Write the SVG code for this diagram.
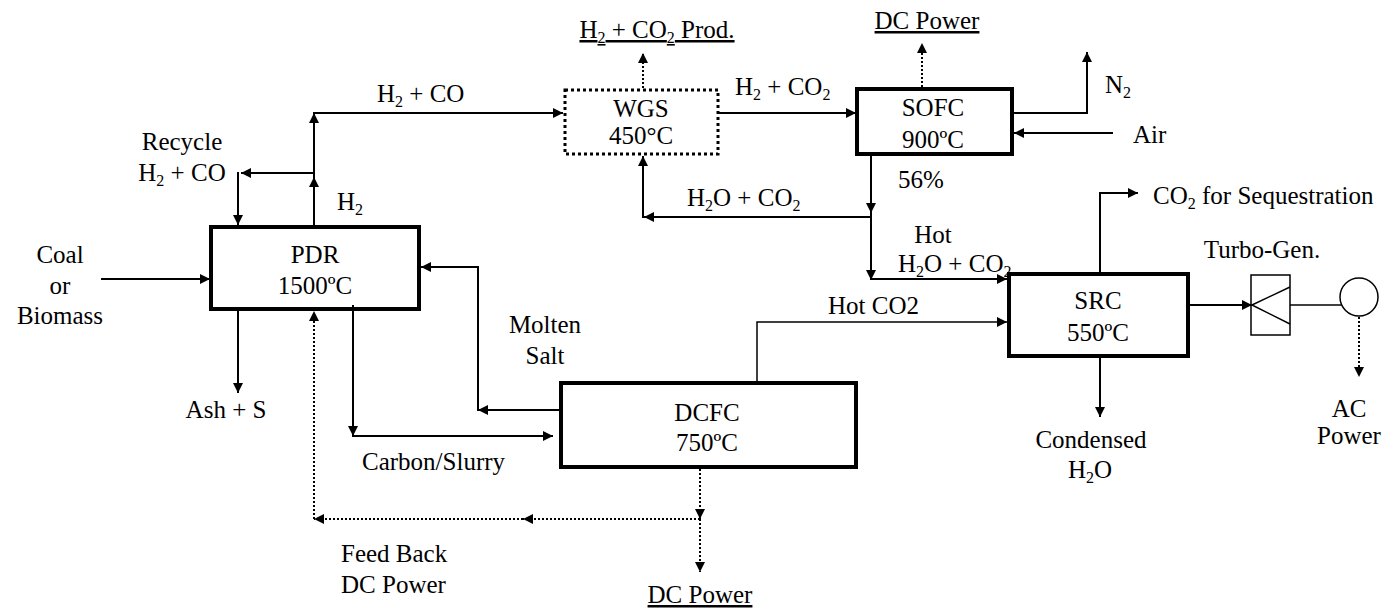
<svg xmlns="http://www.w3.org/2000/svg" width="1393" height="609" viewBox="0 0 1393 609">
<defs>
<marker id="arr" viewBox="0 0 10 10" refX="10" refY="5" markerWidth="12" markerHeight="10" markerUnits="userSpaceOnUse" orient="auto"><path d="M0,0 L10,5 L0,10 z" fill="#000"/></marker>
</defs>
<style>
text { font-family: "Liberation Serif", "Times New Roman", serif; font-size: 25px; fill: #000; }
.s { font-size: 16px; }
.m { text-anchor: middle; }
.u { text-decoration: underline; }
.c { stroke: #000; stroke-width: 2; fill: none; }
.t { stroke: #000; stroke-width: 1.5; fill: none; }
.d { stroke: #000; stroke-width: 2; fill: none; stroke-dasharray: 2 2; }
.box { fill: #fff; stroke: #000; stroke-width: 4; }
</style>
<rect width="1393" height="609" fill="#fff"/>

<g id="PDR">
<rect class="box" x="211" y="227" width="208" height="82"/>
<text class="m" x="315" y="263">PDR</text>
<text class="m" x="315" y="294">1500ºC</text>
</g>
<g id="WGS">
<rect x="565" y="90" width="153" height="64" fill="#fff" stroke="#000" stroke-width="3" stroke-dasharray="3 3"/>
<text class="m" x="641" y="117">WGS</text>
<text class="m" x="641" y="144">450°C</text>
</g>
<g id="SOFC">
<rect class="box" x="857" y="89" width="155" height="65"/>
<text class="m" x="933" y="116">SOFC</text>
<text class="m" x="933" y="148">900ºC</text>
</g>
<g id="SRC">
<rect class="box" x="1009" y="274" width="179" height="82"/>
<text class="m" x="1098" y="309">SRC</text>
<text class="m" x="1098" y="341">550ºC</text>
</g>
<g id="DCFC">
<rect class="box" x="561" y="383" width="295" height="84"/>
<text class="m" x="707" y="421">DCFC</text>
<text class="m" x="707" y="451">750ºC</text>
</g>
<g id="TurboGen">
<rect x="1251" y="275" width="39" height="60" fill="#fff" stroke="#000" stroke-width="1.5"/>
<path class="t" d="M1252,305 L1290,287 M1252,305 L1290,324"/>
<text class="m" x="1262" y="258">Turbo-Gen.</text>
</g>
<g id="Generator">
<circle cx="1359" cy="297" r="19" fill="#fff" stroke="#000" stroke-width="1.5"/>
</g>

<g id="labels">
<text class="m" x="60" y="263">Coal</text>
<text class="m" x="60" y="294">or</text>
<text class="m" x="60" y="324">Biomass</text>
<text class="m" x="226" y="418">Ash + S</text>
<text class="m" x="182" y="150">Recycle</text>
<text class="m" x="182" y="181">H<tspan class="s" dy="5">2</tspan><tspan dy="-5"> + CO</tspan></text>
<text x="337" y="210">H<tspan class="s" dy="5">2</tspan></text>
<text x="377" y="102">H<tspan class="s" dy="5">2</tspan><tspan dy="-5"> + CO</tspan></text>
<text class="m u" x="657" y="38">H<tspan class="s" dy="5">2</tspan><tspan dy="-5"> + CO</tspan><tspan class="s" dy="5">2</tspan><tspan dy="-5"> Prod.</tspan></text>
<text x="735" y="95">H<tspan class="s" dy="5">2</tspan><tspan dy="-5"> + CO</tspan><tspan class="s" dy="5">2</tspan></text>
<text class="m u" x="927" y="29">DC Power</text>
<text x="1105" y="93">N<tspan class="s" dy="5">2</tspan></text>
<text x="1133" y="143">Air</text>
<text x="898" y="188">56%</text>
<text x="687" y="206">H<tspan class="s" dy="5">2</tspan><tspan dy="-5">O + CO</tspan><tspan class="s" dy="5">2</tspan></text>
<text class="m" x="933" y="243">Hot</text>
<text x="898" y="272">H<tspan class="s" dy="5">2</tspan><tspan dy="-5">O + CO</tspan><tspan class="s" dy="5">2</tspan></text>
<text x="828" y="314">Hot CO2</text>
<text x="1153" y="204">CO<tspan class="s" dy="5">2</tspan><tspan dy="-5"> for Sequestration</tspan></text>
<text class="m" x="1091" y="448">Condensed</text>
<text class="m" x="1090" y="478">H<tspan class="s" dy="5">2</tspan><tspan dy="-5">O</tspan></text>
<text class="m" x="1349" y="417">AC</text>
<text class="m" x="1349" y="444">Power</text>
<text class="m" x="545" y="333">Molten</text>
<text class="m" x="545" y="364">Salt</text>
<text x="362" y="470">Carbon/Slurry</text>
<text x="341" y="562">Feed Back</text>
<text x="341" y="593">DC Power</text>
<text class="m u" x="700" y="603">DC Power</text>
</g>

<g id="connectors">
<path class="c" d="M101,279 H210" marker-end="url(#arr)"/>
<path class="c" d="M238,311 V393" marker-end="url(#arr)"/>
<path class="c" d="M314,229 V177" marker-end="url(#arr)"/>
<path class="c" d="M314,177 V113" marker-end="url(#arr)"/>
<path class="c" d="M313,113 H563" marker-end="url(#arr)"/>
<path class="c" d="M314,173 H241" marker-end="url(#arr)"/>
<path class="c" d="M238,172 V225" marker-end="url(#arr)"/>
<path class="c" d="M718,113 H856" marker-end="url(#arr)"/>
<path class="d" d="M643,88 V53" marker-end="url(#arr)"/>
<path class="d" d="M922,87 V43" marker-end="url(#arr)"/>
<path class="c" d="M1014,113 H1087 V52" marker-end="url(#arr)"/>
<path class="c" d="M1113,133 H1014" marker-end="url(#arr)"/>
<path class="c" d="M871,156 V213" marker-end="url(#arr)"/>
<path class="c" d="M871,213 V280" marker-end="url(#arr)"/>
<path class="c" d="M870,279 H1007" marker-end="url(#arr)"/>
<path class="c" d="M871,217 H644" marker-end="url(#arr)"/>
<path class="c" d="M643,218 V156" marker-end="url(#arr)"/>
<path class="t" d="M757,381 V322 H1007" marker-end="url(#arr)"/>
<path class="c" d="M1100,272 V193 H1138" marker-end="url(#arr)"/>
<path class="c" d="M1100,358 V417" marker-end="url(#arr)"/>
<path class="c" d="M1190,305 H1252" marker-end="url(#arr)"/>
<path class="t" d="M1290,305 H1341"/>
<path class="d" d="M1359,317 V377" marker-end="url(#arr)"/>
<path class="c" d="M559,410 H478" marker-end="url(#arr)"/>
<path class="c" d="M478,411 V267 H421" marker-end="url(#arr)"/>
<path class="c" d="M353,305 V436" marker-end="url(#arr)"/>
<path class="c" d="M352,436 H553" marker-end="url(#arr)"/>
<path class="d" d="M700,469 V519" marker-end="url(#arr)"/>
<path class="d" d="M700,519 V572" marker-end="url(#arr)"/>
<path class="d" d="M700,519 H523" marker-end="url(#arr)"/>
<path class="d" d="M523,519 H314" marker-end="url(#arr)"/>
<path class="d" d="M314,519 V311" marker-end="url(#arr)"/>
</g>
</svg>
